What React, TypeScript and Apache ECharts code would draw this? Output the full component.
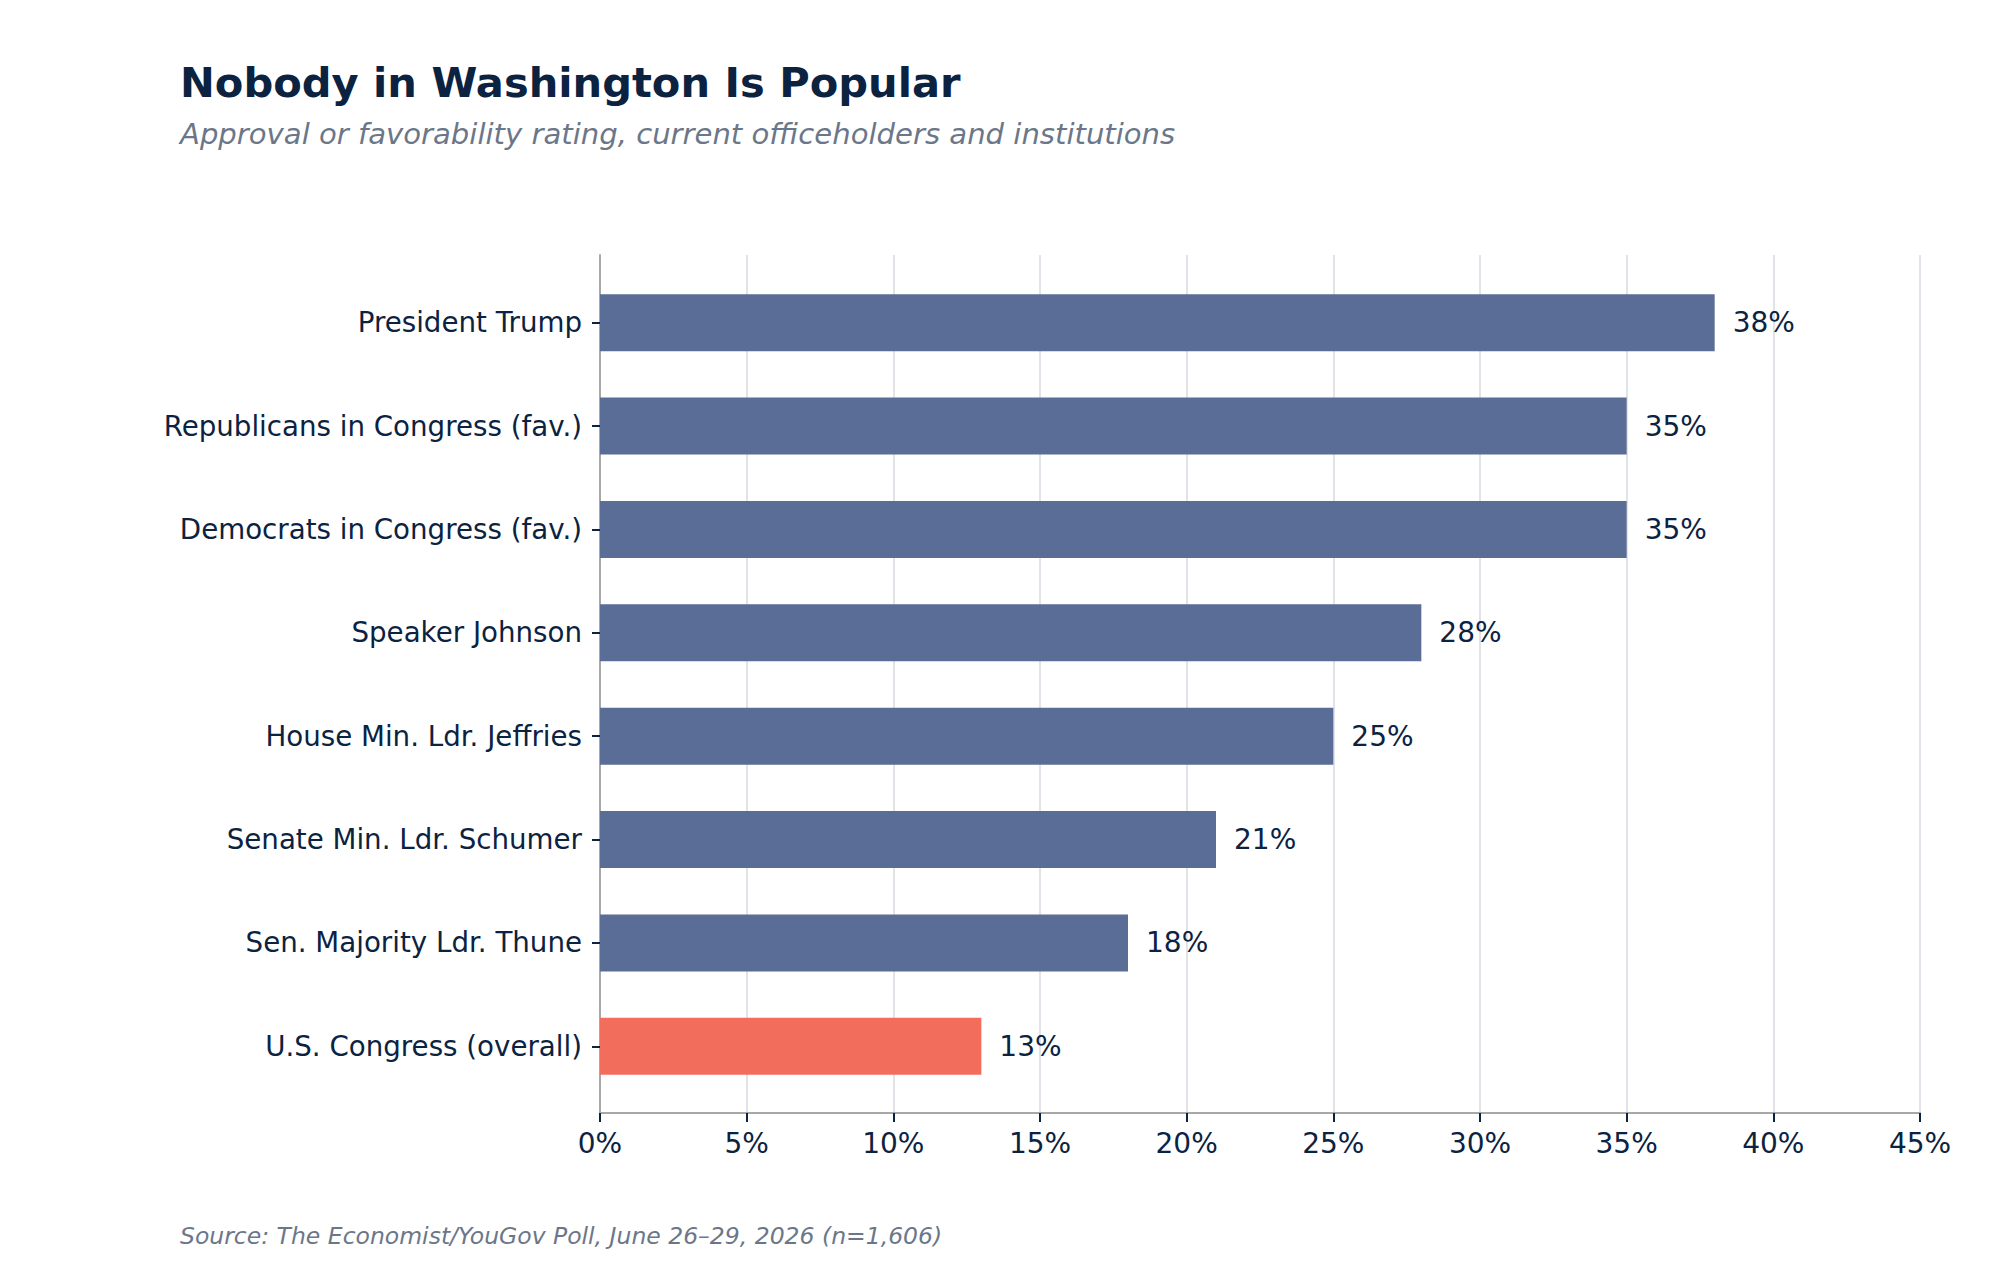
import React, { useEffect, useRef } from 'react';
import * as echarts from 'echarts';

const categories = [
  'President Trump',
  'Republicans in Congress (fav.)',
  'Democrats in Congress (fav.)',
  'Speaker Johnson',
  'House Min. Ldr. Jeffries',
  'Senate Min. Ldr. Schumer',
  'Sen. Majority Ldr. Thune',
  'U.S. Congress (overall)',
];
const ratings = [38, 35, 35, 28, 25, 21, 18, 13];
const highlighted = ['U.S. Congress (overall)'];

const FONT = '"DejaVu Sans", sans-serif';
const NAVY = '#0b2341';
const GREY_TEXT = '#6b7789';
const BAR = '#5a6d96';
const RED = '#f26d5c';

const App: React.FC = () => {
  const chartRef = useRef<HTMLDivElement>(null);

  useEffect(() => {
    document.body.style.margin = '0';
    if (!chartRef.current) return;
    const chart = echarts.init(chartRef.current, undefined, { renderer: 'svg' });

    const option = {
      animation: false,
      backgroundColor: '#ffffff',
      textStyle: { fontFamily: FONT },
      graphic: [
        {
          type: 'text',
          left: 180,
          y: 82,
          style: {
            text: 'Nobody in Washington Is Popular',
            fontFamily: FONT,
            fontSize: 41.6,
            fontWeight: 'bold',
            fill: NAVY,
            verticalAlign: 'middle',
          },
        },
        {
          type: 'text',
          left: 180,
          y: 134,
          style: {
            text: 'Approval or favorability rating, current officeholders and institutions',
            fontFamily: FONT,
            fontSize: 29.1,
            fontStyle: 'italic',
            fill: GREY_TEXT,
            verticalAlign: 'middle',
          },
        },
        {
          type: 'text',
          left: 180,
          y: 1236,
          style: {
            text: 'Source: The Economist/YouGov Poll, June 26–29, 2026 (n=1,606)',
            fontFamily: FONT,
            fontSize: 23.5,
            fontStyle: 'italic',
            fill: GREY_TEXT,
            verticalAlign: 'middle',
          },
        },
      ],
      grid: [
        { left: 600, right: 80, top: 255, bottom: 167 },
        { left: 600, right: 80, top: 271, bottom: 182 },
      ],
      xAxis: [
        {
          type: 'value',
          gridIndex: 0,
          min: 0,
          max: 45,
          interval: 5,
          axisLine: { show: true, onZero: false, lineStyle: { color: '#a8a8a8', width: 2 } },
          axisTick: { show: true, length: 9, lineStyle: { color: NAVY, width: 2 } },
          axisLabel: {
            formatter: '{value}%',
            fontFamily: FONT,
            fontSize: 28,
            color: NAVY,
            margin: 16,
          },
          splitLine: { show: true, lineStyle: { color: '#e0e3e8', width: 2 } },
        },
        {
          type: 'value',
          gridIndex: 1,
          min: 0,
          max: 45,
          show: false,
        },
      ],
      yAxis: [
        {
          type: 'value',
          gridIndex: 0,
          min: 0,
          max: 1,
          axisLine: { show: true, onZero: false, lineStyle: { color: '#a8a8a8', width: 2 } },
          axisTick: { show: false },
          axisLabel: { show: false },
          splitLine: { show: false },
        },
        {
          type: 'category',
          gridIndex: 1,
          data: categories,
          inverse: true,
          axisLine: { show: false },
          axisTick: { show: true, alignWithLabel: true, length: 8, lineStyle: { color: NAVY, width: 2 } },
          axisLabel: {
            fontFamily: FONT,
            fontSize: 27.7,
            color: NAVY,
            margin: 18,
          },
          splitLine: { show: false },
        },
      ],
      series: [
        {
          type: 'bar',
          xAxisIndex: 1,
          yAxisIndex: 1,
          barWidth: 57,
          data: ratings.map((v, i) => ({
            value: v,
            itemStyle: { color: highlighted.includes(categories[i]) ? RED : BAR },
          })),
          label: {
            show: true,
            position: 'right',
            distance: 18,
            formatter: '{c}%',
            fontFamily: FONT,
            fontSize: 28,
            color: NAVY,
          },
        },
      ],
    };

    chart.setOption(option);

    const handleResize = () => chart.resize();
    window.addEventListener('resize', handleResize);
    return () => {
      window.removeEventListener('resize', handleResize);
      chart.dispose();
    };
  }, []);

  return <div ref={chartRef} style={{ width: '2000px', height: '1280px' }} />;
};

export default App;
